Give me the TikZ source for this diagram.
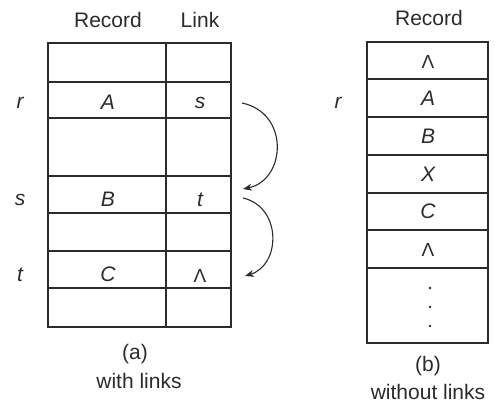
\documentclass[tikz,border=0pt]{standalone}
\usepackage{fontspec}
\setmainfont{Liberation Sans}
\usetikzlibrary{arrows.meta}
\definecolor{ink}{HTML}{2B2B2B}
\tikzset{
  grid/.style={draw=ink, line width=1.3pt},
  txt/.style={inner sep=0pt, text=ink, font=\fontsize{21}{24}\selectfont},
  itxt/.style={txt, font=\fontsize{21}{24}\selectfont\itshape},
  lam/.style={txt, font=\fontsize{19}{22}\selectfont},
  dotmark/.style={circle, fill=ink, inner sep=0pt, minimum size=2.6pt},
  linkarrow/.style={draw=ink, line width=1.1pt, -{Stealth[length=9pt,width=7pt]}}
}
\begin{document}
\begin{tikzpicture}[x=1pt,y=-1pt]
\useasboundingbox (0,0) rectangle (495,404);
\fill[white] (0,0) rectangle (495,404);
% ---------- table (a) ----------
\draw[grid] (48,43) rectangle (231,327);
\draw[grid] (166,43) -- (166,327);
\foreach \yy in {82,118,176,213,251,288}{\draw[grid] (48,\yy) -- (231,\yy);}
\node[txt] (hrec) at (108,20) {Record};
\node[txt] (hlink) at (200,20) {Link};
\node[itxt] (lr) at (20,103) {r};
\node[itxt] (cA) at (108,102) {A};
\node[itxt] (ls1) at (200,103) {s};
\node[itxt] (lsa) at (20,200) {s};
\node[itxt] (cB) at (108,199) {B};
\node[itxt] (lt1) at (200,200) {t};
\node[itxt] (lta) at (20,275) {t};
\node[itxt] (cC) at (108,274) {C};
\node[lam] (lL) at (200,276) {Λ};
\node[txt] (capa) at (135,354) {(a)};
\node[txt] (capa2) at (139,381) {with links};
% arrows
\coordinate (p1) at (242,103);
\coordinate (p2) at (243,189);
\coordinate (p3) at (243,198);
\coordinate (p4) at (245,276);
\draw[linkarrow] (p1) .. controls (290,113) and (286,180) .. (p2);
\draw[linkarrow] (p3) .. controls (282,207) and (281,265) .. (p4);
% ---------- table (b) ----------
\draw[grid] (367,42) rectangle (488,343);
\foreach \yy in {79,117,155,193,230,268}{\draw[grid] (367,\yy) -- (488,\yy);}
\node[txt] (hrecb) at (429,18) {Record};
\node[itxt] (rb) at (338,103) {r};
\node[lam] (b0) at (428,62) {Λ};
\node[itxt] (b1) at (428,98) {A};
\node[itxt] (b2) at (428,136) {B};
\node[itxt] (b3) at (428,174) {X};
\node[itxt] (b4) at (428,211) {C};
\node[lam] (b5) at (428,250) {Λ};
\node[dotmark] (d1) at (430,288) {};
\node[dotmark] (d2) at (430,307) {};
\node[dotmark] (d3) at (430,326) {};
\node[txt] (capb) at (428,366) {(b)};
\node[txt] (capb2) at (428,392) {without links};
\end{tikzpicture}
\end{document}
